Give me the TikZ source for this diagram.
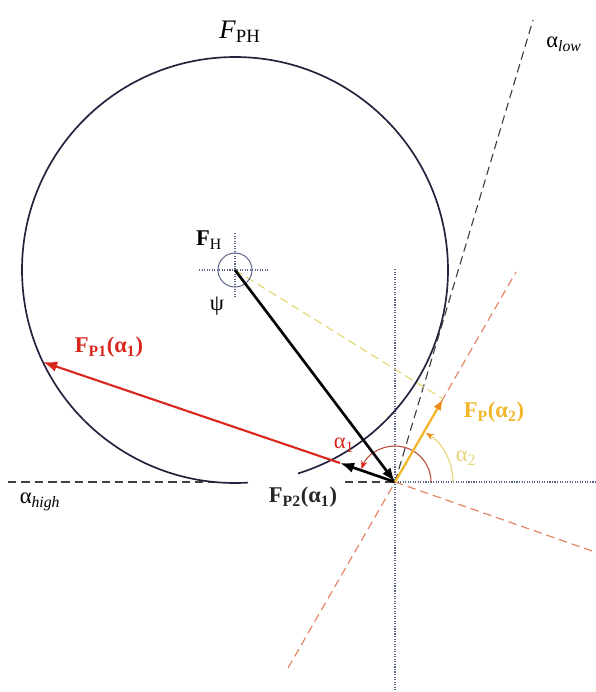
\documentclass[tikz,border=0pt]{standalone}
\usepackage{fontspec}
\setmainfont{Liberation Serif}
\usepackage{tikz}
\usetikzlibrary{arrows.meta}
\definecolor{locusblue}{RGB}{35,35,62}
\definecolor{forcered}{RGB}{218,38,28}
\definecolor{forcegold}{RGB}{242,182,40}
\definecolor{tipgold}{RGB}{238,140,30}
\definecolor{guidesalmon}{RGB}{226,128,98}
\definecolor{guideyellow}{RGB}{226,214,110}
\definecolor{axisgrey}{RGB}{90,100,135}
\definecolor{anglebrown}{RGB}{188,82,62}
\definecolor{anglepale}{RGB}{232,212,120}
\newcommand{\alsub}[1]{α\textsubscript{#1}}
\newcommand{\forcelbl}[2]{\textbf{F\textsubscript{#1}(\alsub{#2})}}

\begin{document}
\begin{tikzpicture}[x=0.025cm, y=-0.025cm, font=\fontsize{16}{18}\selectfont,
  vec/.style={line width=1.9pt, -{Latex[length=10pt,width=7.5pt]}},
  guideline/.style={dash pattern=on 6pt off 3.5pt, line width=0.8pt},
  crossline/.style={densely dotted, axisgrey, line width=0.8pt}]
  \useasboundingbox (0,0) rectangle (595,692);
  \coordinate (H) at (235,270);
  \coordinate (O) at (395,482);
  \coordinate (P1) at (43,362);
  \coordinate (P2) at (340,463);
  \coordinate (P) at (443,399);
  \coordinate (lowEnd) at (533,20);
  \coordinate (highEnd) at (8,482);
  \coordinate (highGap) at (215,482);
  \coordinate (highBack) at (345,482);
  \coordinate (tanUp) at (516,272);
  \coordinate (tanDown) at (288,668);
  \coordinate (lineEnd) at (595,552);
  \coordinate (vertTop) at (395,269);
  \coordinate (vertBot) at (395,692);
  \coordinate (horEnd) at (595,482);

  \draw[crossline] (vertTop) -- (vertBot);
  \draw[crossline] (O) -- (horEnd);
  \draw[crossline] (199,270) -- (269,270);
  \draw[crossline] (235,233) -- (235,298);
  \draw[guideline, guidesalmon] (tanDown) -- (tanUp);
  \draw[guideline, guidesalmon] (O) -- (lineEnd);
  \draw[guideline, black!75] (O) -- (lowEnd);
  \draw[guideline, black!75] (highEnd) -- (highGap);
  \draw[guideline, black!75] (highBack) -- (O);
  \draw[guideline, guideyellow] (H) -- (P);

  \draw[locusblue, line width=1.2pt] (H) ++(86.5:213) arc[start angle=86.5, end angle=432.8, radius=213];
  \draw[axisgrey, line width=0.7pt] (H) circle[radius=17];

  \draw[anglebrown, line width=0.8pt, -{Stealth[forcered,length=6pt]}] (O) ++(0:36) arc[start angle=0, end angle=-159, radius=36];
  \draw[anglepale, line width=0.8pt, -{Stealth[tipgold,length=6pt]}] (O) ++(0:58) arc[start angle=0, end angle=-58, radius=58];

  \draw[vec, forcered, line width=1.5pt] (P2) -- (P1);
  \draw[vec, black] (O) -- (P2);
  \draw[vec, black!90!locusblue] (H) -- (O);
  \draw[vec, forcegold, line width=1.6pt, -{Latex[tipgold,length=8pt,width=6pt]}] (O) -- (P);

  \node (lblPH) at (240,32) {\fontsize{19}{21}\selectfont\textit{F}\textsubscript{PH}};
  \node (lblH) at (209,240) {\textbf{F}\textsubscript{H}};
  \node (lblPsi) at (217,306) {ψ};
  \node[text=forcered] (lblP1) at (109,347) {\forcelbl{P1}{1}};
  \node[text=black!85] (lblP2) at (303,497) {\forcelbl{P2}{1}};
  \node[text=forcegold] (lblP) at (494,412) {\forcelbl{P}{2}};
  \node[text=forcered] (lblA1) at (344,445) {\alsub{1}};
  \node[text=anglepale] (lblA2) at (466,458) {\alsub{2}};
  \node (lblLow) at (564,44) {α\textsubscript{\textit{low}}};
  \node (lblHigh) at (40,502) {α\textsubscript{\textit{high}}};
\end{tikzpicture}
\end{document}
